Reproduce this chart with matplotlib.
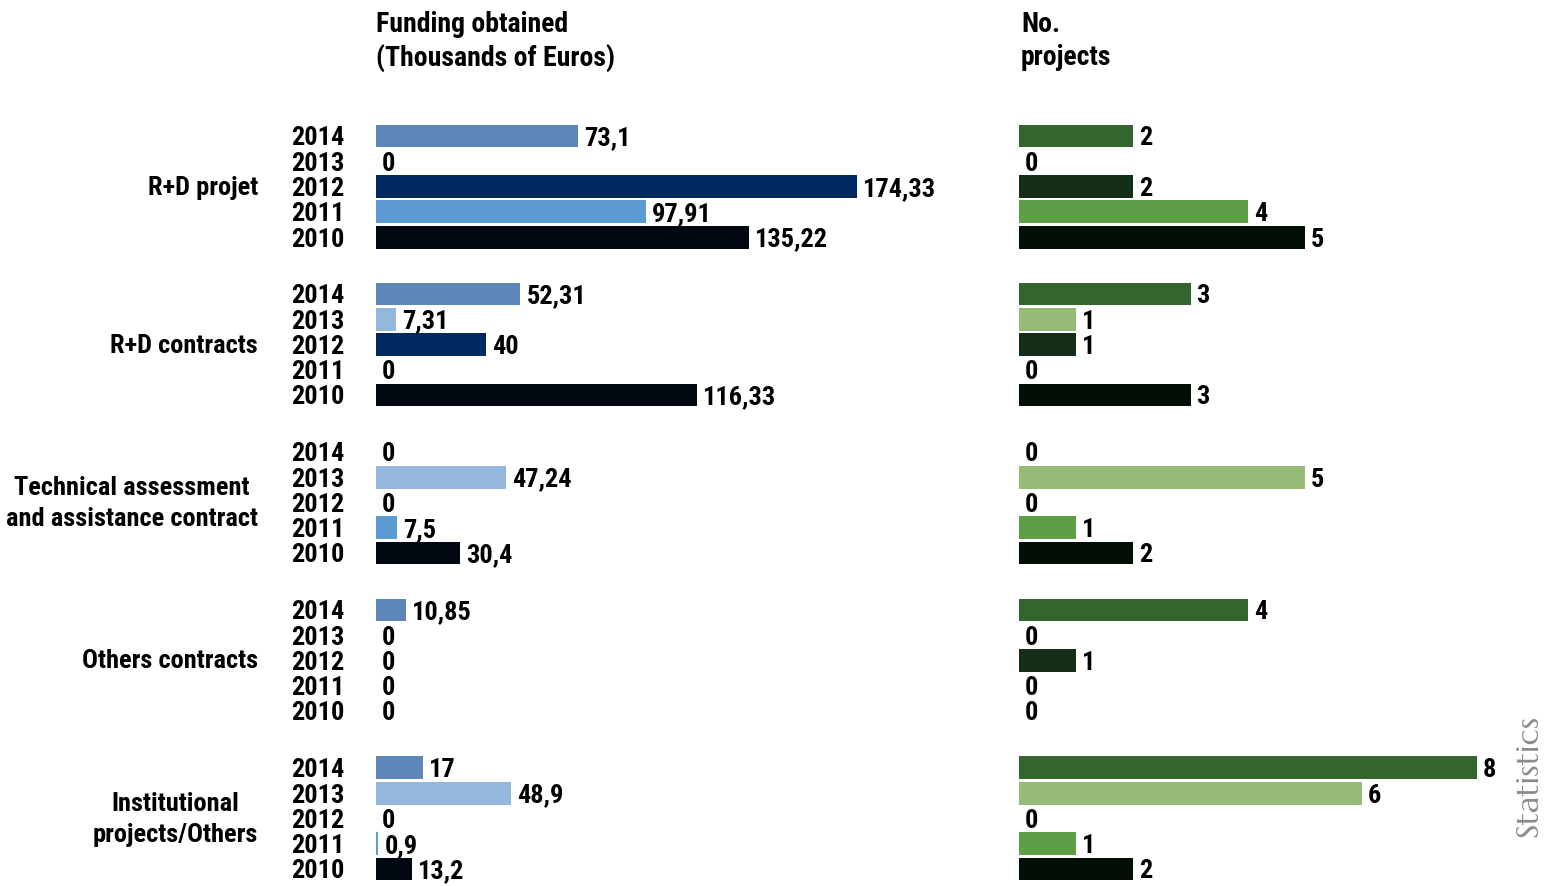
import numpy as np
import matplotlib.pyplot as plt

# Datos
categorias = ["R+D projet", "R+D contracts", "Technical assessment\nand assistance contract",
              "Others contracts", "Institutional\nprojects/Others"]
anios = ["2014", "2013", "2012", "2011", "2010"]

fondos = [
    [73.1, 0, 174.33, 97.91, 135.22],
    [52.31, 7.31, 40, 0, 116.33],
    [0, 47.24, 0, 7.5, 30.4],
    [10.85, 0, 0, 0, 0],
    [17, 48.9, 0, 0.9, 13.2],
]
fondos_txt = [
    ["73,1", "0", "174,33", "97,91", "135,22"],
    ["52,31", "7,31", "40", "0", "116,33"],
    ["0", "47,24", "0", "7,5", "30,4"],
    ["10,85", "0", "0", "0", "0"],
    ["17", "48,9", "0", "0,9", "13,2"],
]
proyectos = [
    [2, 0, 2, 4, 5],
    [3, 1, 1, 0, 3],
    [0, 5, 0, 1, 2],
    [4, 0, 1, 0, 0],
    [8, 6, 0, 1, 2],
]

# Paleta por año (2014 ... 2010)
C_AZUL = ["#5f86b8", "#94b8dc", "#002a5f", "#5b9bd1", "#020812"]
C_VERDE = ["#35652e", "#96bb77", "#142e17", "#5d9e46", "#020d03"]

plt.rcParams['font.family'] = ['Roboto Condensed', 'DejaVu Sans']
FS = 19

W, H = 1554, 887
fig = plt.figure(figsize=(W / 100, H / 100), dpi=100)

SEP = 6.25  # separación entre grupos (en filas)
y_pos = np.array([[g * SEP + k for k in range(5)] for g in range(5)])
y_min, y_max = -0.5, 4 * SEP + 4.5

top_px, bot_px = 124.4, 882.6
ax_b = (H - bot_px) / H
ax_h = (bot_px - top_px) / H

# eje izquierdo: fondos (0 en x=376, 2.76 px/unidad)
x0_l, esc_l = 376, 2.76
ax1 = fig.add_axes([x0_l / W, ax_b, 200 * esc_l / W, ax_h])
# eje derecho: proyectos (0 en x=1019, 57.2 px/unidad)
x0_r, esc_r = 1019, 57.2
ax2 = fig.add_axes([x0_r / W, ax_b, 9 * esc_r / W, ax_h])
ax1.set_xlim(0, 200)
ax2.set_xlim(0, 9)

for ax in (ax1, ax2):
    ax.set_ylim(y_max, y_min)
    ax.axis('off')

PX = 72 / 100  # px -> puntos

for g in range(5):
    for k in range(5):
        y = y_pos[g, k]
        v = fondos[g][k]
        if v > 0:
            ax1.barh(y, v, height=0.9, color=C_AZUL[k])
        ax1.annotate(fondos_txt[g][k], (v, y), xytext=(6 * PX, -1), textcoords='offset points',
                     ha='left', va='center', fontsize=FS, fontweight='bold', annotation_clip=False)
        p = proyectos[g][k]
        if p > 0:
            ax2.barh(y, p, height=0.9, color=C_VERDE[k])
        ax2.annotate(str(p), (p, y), xytext=(6 * PX, -1), textcoords='offset points',
                     ha='left', va='center', fontsize=FS, fontweight='bold', annotation_clip=False)
        # años
        ax1.annotate(anios[k], (0, y), xytext=(-32 * PX, -1), textcoords='offset points',
                     ha='right', va='center', fontsize=FS, fontweight='bold', annotation_clip=False)
    # categoría
    yc = y_pos[g, 2]
    ax1.annotate(categorias[g], (0, yc), xytext=(-118 * PX, 0), textcoords='offset points',
                 ha='right', va='center', multialignment='center', fontsize=FS,
                 fontweight='bold', linespacing=1.4, annotation_clip=False)

# Encabezados
fig.text(376 / W, 1 - 11 / H, "Funding obtained\n(Thousands of Euros)", ha='left', va='top',
         fontsize=20, fontweight='bold', linespacing=1.27)
fig.text(1021 / W, 1 - 11 / H, "No.\nprojects", ha='left', va='top',
         fontsize=20, fontweight='bold', linespacing=1.27)

# Texto lateral
fig.text(1530 / W, 1 - 776 / H, "Statistics", rotation=90, ha='center', va='center',
         fontsize=23, color="#8c8c8c", family=['Marcellus', 'DejaVu Sans'])

fig.savefig("out.png", dpi=100)
